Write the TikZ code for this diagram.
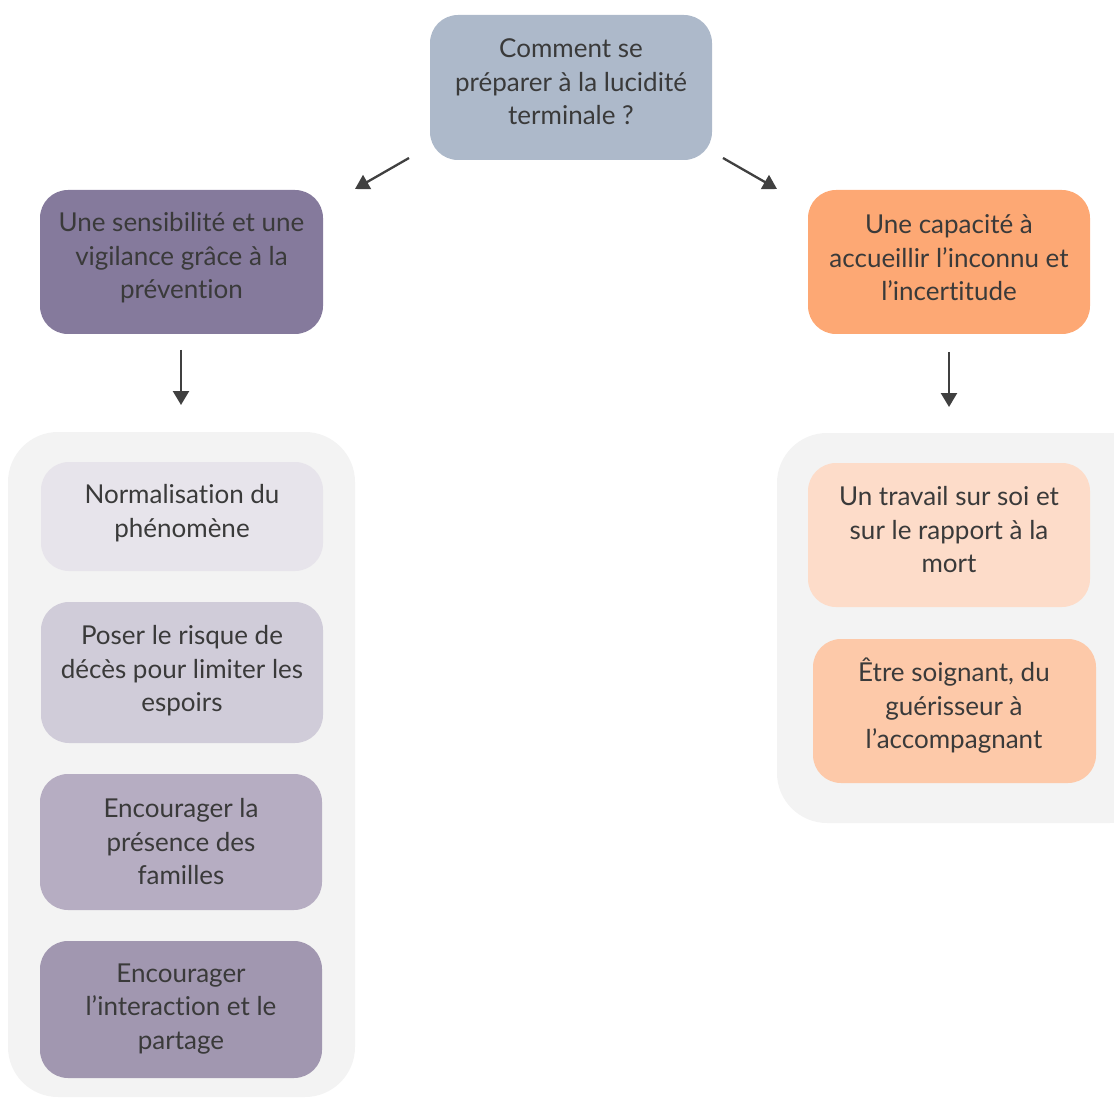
\documentclass[tikz,border=0pt]{standalone}
\usepackage{fontspec}
\setmainfont{Lato}[Ligatures=NoCommon]
\usetikzlibrary{arrows.meta}
\definecolor{txt}{HTML}{3A3A3A}
\definecolor{topc}{HTML}{ADB9CA}
\definecolor{leftc}{HTML}{857A9C}
\definecolor{rightc}{HTML}{FDA874}
\definecolor{cont}{HTML}{F3F3F3}
\definecolor{la}{HTML}{E7E4EB}
\definecolor{lb}{HTML}{D0CCD9}
\definecolor{lc}{HTML}{B6ADC2}
\definecolor{ld}{HTML}{A197B0}
\definecolor{ra}{HTML}{FDDCC9}
\definecolor{rb}{HTML}{FDC9A9}
\definecolor{arr}{HTML}{404040}
\tikzset{
  box/.style={rounded corners=28pt, align=center, text=txt,
    font=\fontsize{26}{33.5}\selectfont, inner sep=0pt},
  contbox/.style={fill=cont, rounded corners=50pt},
  conn/.style={draw=arr, line width=2.3pt, -{Triangle[length=14pt,width=16pt]}}
}
\begin{document}
\begin{tikzpicture}[x=1pt,y=-1pt]
\useasboundingbox (0,0) rectangle (1114,1099);
\clip (0,0) rectangle (1114,1099);
% containers
\path[contbox] (8,432) rectangle (355,1097);
\path[contbox] (777,433) rectangle (1160,823);
% boxes
\path[box, fill=topc] (430,15) rectangle (712,160);
\node[box] (top) at (571,82) {Comment se\\préparer à la lucidité\\terminale ?};
\coordinate (topL) at (409,158);
\coordinate (topR) at (723,158);

\path[box, fill=leftc] (40,190) rectangle (323,334);
\node[box] (left) at (181.5,258) {Une sensibilité et une\\vigilance grâce à la\\prévention};

\path[box, fill=rightc] (808,190) rectangle (1090,334);
\node[box] (right) at (949,258) {Une capacité à\\accueillir l’inconnu et\\l’incertitude};

\path[box, fill=la] (41,462) rectangle (323,571);
\node[box] (l1) at (182,513) {Normalisation du\\phénomène};
\path[box, fill=lb] (41,602) rectangle (323,743);
\node[box] (l2) at (182,671) {Poser le risque de\\décès pour limiter les\\espoirs};
\path[box, fill=lc] (40,774) rectangle (322,910);
\node[box] (l3) at (181,842) {Encourager la\\présence des\\familles};
\path[box, fill=ld] (40,941) rectangle (322,1078);
\node[box] (l4) at (181,1009) {Encourager\\l’interaction et le\\partage};

\path[box, fill=ra] (808,463) rectangle (1090,607);
\node[box] (r1) at (949,530) {Un travail sur soi et\\sur le rapport à la\\mort};
\path[box, fill=rb] (813,639) rectangle (1096,783);
\node[box] (r2) at (954,706) {Être soignant, du\\guérisseur à\\l’accompagnant};

% arrows
\coordinate (a1e) at (355,189);
\coordinate (a2e) at (777,189);
\coordinate (a3s) at (181,350);
\coordinate (a3e) at (181,405);
\coordinate (a4s) at (949,352);
\coordinate (a4e) at (949,407);
\draw[conn] (topL) -- (a1e);
\draw[conn] (topR) -- (a2e);
\draw[conn] (a3s) -- (a3e);
\draw[conn] (a4s) -- (a4e);
\end{tikzpicture}
\end{document}
